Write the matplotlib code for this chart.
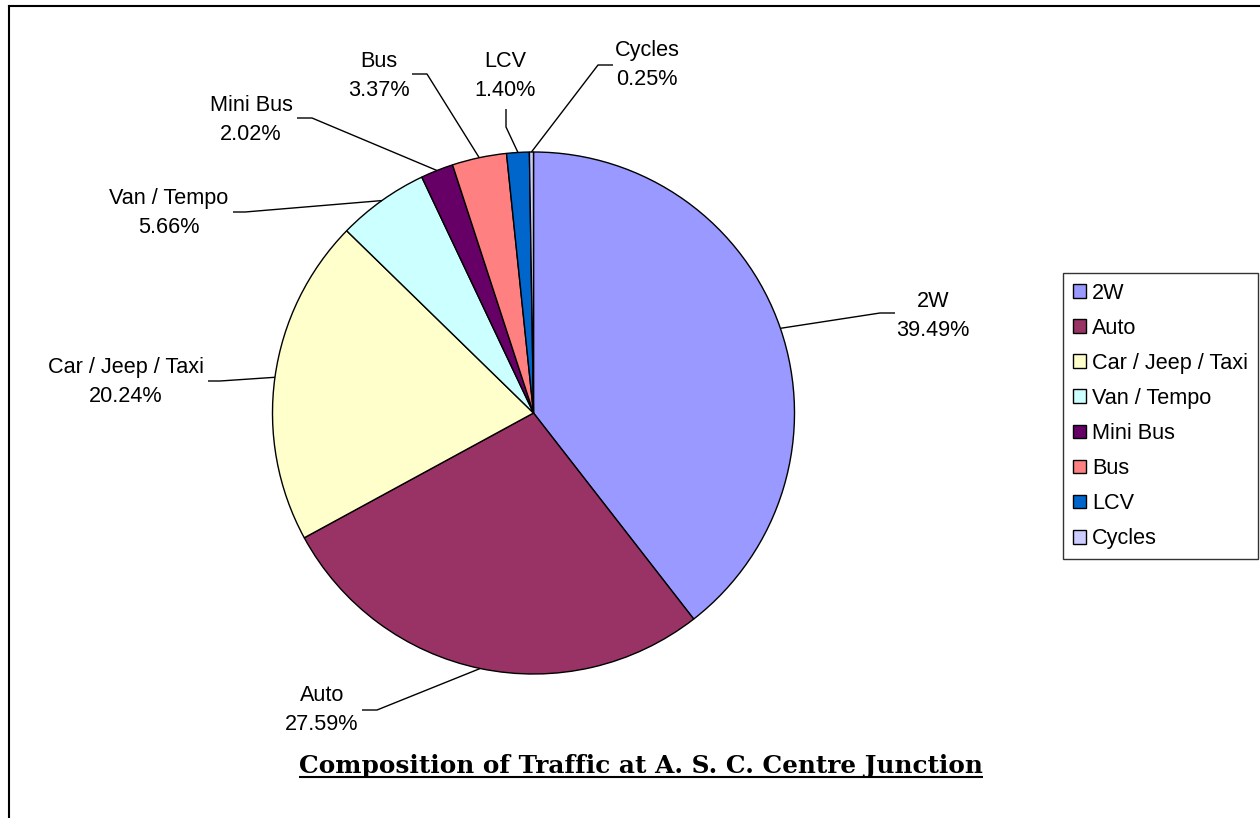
import numpy as np
import matplotlib
matplotlib.use("Agg")
import matplotlib.pyplot as plt
from matplotlib.patches import Patch
from matplotlib.lines import Line2D

categories = ["2W", "Auto", "Car / Jeep / Taxi", "Van / Tempo", "Mini Bus", "Bus", "LCV", "Cycles"]
shares = [39.49, 27.59, 20.24, 5.66, 2.02, 3.37, 1.40, 0.25]
colors = ["#9999FF", "#993366", "#FFFFCC", "#CCFFFF", "#660066", "#FF8080", "#0066CC", "#CCCCFF"]
title = "Composition of Traffic at A. S. C. Centre Junction"

W, H = 1260, 818
plt.rcParams['font.family'] = ['Liberation Sans', 'DejaVu Sans']

fig = plt.figure(figsize=(W / 100, H / 100), dpi=100)
ax = fig.add_axes([0, 0, 1, 1])

def Y(y):
    return H - y

cx, cy, r = 533.5, Y(413), 261
wedges, _ = ax.pie(shares, colors=colors, startangle=90, counterclock=False,
                   center=(cx, cy), radius=r,
                   wedgeprops=dict(edgecolor='black', linewidth=1.0))
ax.set_xlim(0, W)
ax.set_ylim(0, H)
ax.set_aspect('equal')
ax.axis('off')

# label layout (pixel coords): text centre, elbow, end of leader
label_pos = [(933, 316), (322, 710), (126, 382), (169, 213), (251, 120), (379, 76), (505, 76), (647, 65)]
elbows = [(880, 313), (377, 710), (220, 381), (245, 212), (312, 118), (427, 74), (506, 127), (598, 65)]
ends = [(895, 313), (362, 710), (208, 381), (233, 212), (297, 118), (412, 74), (506, 109), (613, 65)]

FS = 15.6
for i, (wdg, name, v) in enumerate(zip(wedges, categories, shares)):
    th = np.deg2rad((wdg.theta1 + wdg.theta2) / 2)
    ax_, ay_ = cx + r * np.cos(th), cy + r * np.sin(th)
    ex, ey = elbows[i]
    nx, ny = ends[i]
    ax.plot([ax_, ex, nx], [ay_, Y(ey), Y(ny)], color='black', lw=1.0, solid_capstyle='butt')
    tx, ty = label_pos[i]
    ax.text(tx, Y(ty), f"{name}\n{v:.2f}%", ha='center', va='center', fontsize=FS,
            linespacing=1.55, multialignment='center')

handles = [Patch(facecolor=c, edgecolor='black', linewidth=1.0) for c in colors]
leg = fig.legend(handles, categories, loc='upper left',
                 bbox_to_anchor=(1063 / W, 1 - 273 / H), bbox_transform=fig.transFigure,
                 fontsize=FS, frameon=True, fancybox=False, shadow=False,
                 handlelength=0.6, handleheight=0.6, handletextpad=0.28,
                 labelspacing=0.65, borderpad=0.45, borderaxespad=0)
leg.get_frame().set_edgecolor('black')
leg.get_frame().set_linewidth(1.0)

t = ax.text(641, Y(766), title, ha='center', va='center', fontsize=20,
            fontweight='bold', family=['DejaVu Serif'])
fig.canvas.draw()
bb = t.get_window_extent()
t.set_fontsize(20 * 683 / bb.width)
fig.canvas.draw()
bb = t.get_window_extent()
ax.plot([bb.x0, bb.x1], [Y(777), Y(777)], color='black', lw=1.5, solid_capstyle='butt')

# outer border (top and left)
fig.add_artist(Line2D([8.5 / W, 1], [1 - 5.5 / H, 1 - 5.5 / H], color='black', lw=1.5,
                      transform=fig.transFigure))
fig.add_artist(Line2D([8.5 / W, 8.5 / W], [0, 1 - 5.5 / H], color='black', lw=1.5,
                      transform=fig.transFigure))

fig.savefig("out.png", dpi=100)
